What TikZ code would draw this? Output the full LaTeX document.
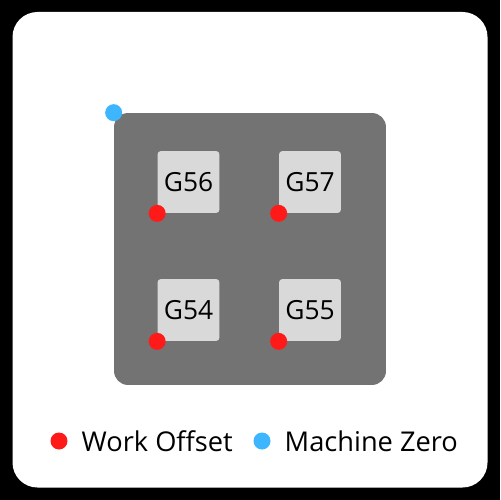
\documentclass[tikz,border=0pt]{standalone}
\usepackage{fontspec}
\setmainfont{Open Sans}
\usetikzlibrary{positioning}
\definecolor{plategray}{HTML}{737373}
\definecolor{pocketgray}{HTML}{D9D9D9}
\definecolor{offsetred}{HTML}{FF1A1A}
\definecolor{zeroblue}{HTML}{3DB5FF}

\begin{document}
\begin{tikzpicture}[x=0.02cm,y=-0.02cm,node distance=0.2cm]

  \tikzstyle{plate}=[rectangle,rounded corners=0.28cm,fill=plategray,
  		     minimum size=5.44cm,inner sep=0pt]
  \tikzstyle{pocket}=[rectangle,rounded corners=2pt,fill=pocketgray,
  		      minimum size=1.24cm,inner sep=0pt,
  		      font=\fontsize{15}{18}\selectfont]
  \tikzstyle{red dot}=[circle,fill=offsetred,minimum size=0.34cm,inner sep=0pt]
  \tikzstyle{blue dot}=[red dot,fill=zeroblue]
  \tikzstyle{legend}=[inner sep=0pt,font=\fontsize{15.5}{18}\selectfont]

  % frame
  \fill[black] (0,0) rectangle (500,500);
  \fill[white,rounded corners=0.5cm] (12.5,12) rectangle (487.5,487.5);

  \node [plate] (plate) at (250,249) {};

  % pockets
  \node [pocket] (g56) at (188.5,182) {\raisebox{-1pt}{G56}};
  \node [pocket] (g57) at (310,182) {\raisebox{-1pt}{G57}};
  \node [pocket] (g54) at (188.5,310) {\raisebox{-1pt}{G54}};
  \node [pocket] (g55) at (310,310) {\raisebox{-1pt}{G55}};

  \node [red dot] (o56) at (g56.south west) {};
  \node [red dot] (o57) at (g57.south west) {};
  \node [red dot] (o54) at (g54.south west) {};
  \node [red dot] (o55) at (g55.south west) {};

  \node [blue dot] (zero) at (plate.north west) {};

  % legend
  \node [red dot] (wodot) at (59,441) {};
  \node [legend] (wo) [right=0.27cm of wodot] {Work Offset};
  \node [blue dot] (mzdot) at (262,441) {};
  \node [legend] (mz) [right=0.27cm of mzdot] {Machine Zero};

\end{tikzpicture}
\end{document}
